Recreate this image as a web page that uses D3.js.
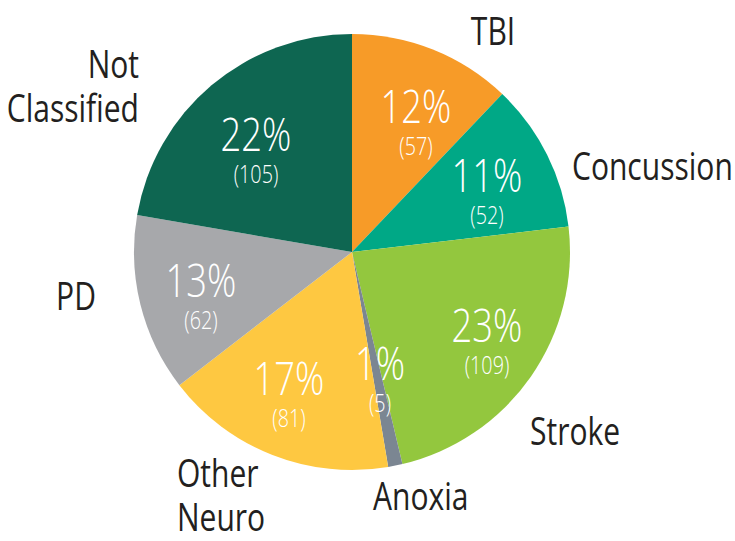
<!DOCTYPE html>
<html>
<head>
<meta charset="utf-8">
<script src="https://cdn.jsdelivr.net/npm/d3@7"></script>
<style>
  html, body { margin: 0; padding: 0; background: #fff; }
  svg text { font-family: "Open Sans", "Liberation Sans Narrow", sans-serif; font-weight: 400; }
  svg .val text { font-weight: 300; }
</style>
</head>
<body>
<svg id="chart" width="735" height="541"></svg>
<script>
// --- data ---
const categories = ["TBI", "Concussion", "Stroke", "Anoxia", "Other Neuro", "PD", "Not Classified"];
const counts     = [57, 52, 109, 5, 81, 62, 105];
const percents   = ["12%", "11%", "23%", "1%", "17%", "13%", "22%"];
const labelLines = [["TBI"], ["Concussion"], ["Stroke"], ["Anoxia"], ["Other", "Neuro"], ["PD"], ["Not", "Classified"]];
const colors     = ["#f79b28", "#00a886", "#93c73e", "#7b8692", "#fec841", "#a7a8ab", "#0e6651"];

// --- layout ---
const cx = 352, cy = 252, radius = 218;
const squeeze = 0.79; // condensed look
// inner value labels, offset from pie centre
const insideAt = [[64, -129], [135, -60], [135, 90], [28, 128], [-63, 143], [-151, 45], [-96, -101]];
// outer category labels: offset from centre, anchor
const outsideAt = [
  [141, -207, "middle"], [220, -72, "start"], [178, 193, "start"], [21, 258, "start"],
  [-175, 235, "start"], [-276, 58, "middle"], [-213, -174, "end"]
];

const svg = d3.select("#chart");
const g = svg.append("g").attr("transform", `translate(${cx},${cy})`);

const pie = d3.pie().sort(null).value(d => d);
const arcs = pie(counts);
const arc = d3.arc().innerRadius(0).outerRadius(radius);

g.selectAll("path.slice")
  .data(arcs)
  .enter().append("path")
  .attr("class", "slice")
  .attr("d", arc)
  .attr("fill", (d, i) => colors[i]);

// value labels
const inner = g.selectAll("g.val")
  .data(arcs)
  .enter().append("g")
  .attr("class", "val")
  .attr("transform", (d, i) => `translate(${insideAt[i][0]},${insideAt[i][1]}) scale(${squeeze},1)`);

inner.append("text")
  .attr("text-anchor", "middle")
  .attr("y", 0)
  .attr("fill", "#fff")
  .style("font-size", "46px")
  .text((d, i) => percents[i]);

inner.append("text")
  .attr("text-anchor", "middle")
  .attr("y", 32)
  .attr("fill", "#fff")
  .style("font-size", "25px")
  .text((d, i) => `(${counts[i]})`);

// category labels
const outer = g.selectAll("g.cat")
  .data(arcs)
  .enter().append("g")
  .attr("class", "cat")
  .attr("transform", (d, i) => `translate(${outsideAt[i][0]},${outsideAt[i][1]}) scale(${squeeze},1)`);

outer.each(function(d, i) {
  const t = d3.select(this).append("text")
    .attr("text-anchor", outsideAt[i][2])
    .attr("fill", "#231f20")
    .style("font-size", "38px");
  labelLines[i].forEach((line, k) => {
    t.append("tspan").attr("x", 0).attr("y", k * 44).text(line);
  });
});
</script>
</body>
</html>
